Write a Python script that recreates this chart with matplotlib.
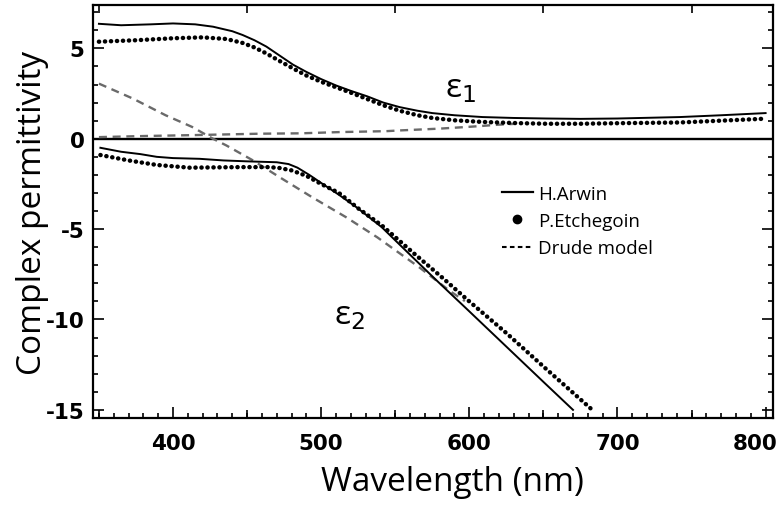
import matplotlib.pyplot as plt
import matplotlib.transforms as mtransforms
from matplotlib.lines import Line2D
from matplotlib.ticker import MultipleLocator

plt.rcParams["axes.unicode_minus"] = False

# ── Data (wavelength in nm) ──────────────────────────────────────────────────
arwin_e1_wl = [350, 365, 385, 400, 415, 427, 440, 447, 455, 463, 472, 481, 490,
               500, 510, 520, 531, 542, 553, 565, 575, 590, 609, 630, 652, 675,
               700, 742, 770, 800]
arwin_e1 = [6.36, 6.28, 6.33, 6.38, 6.33, 6.2, 5.95, 5.74, 5.45, 5.1, 4.6, 4.1,
            3.7, 3.3, 2.95, 2.65, 2.35, 2.0, 1.75, 1.55, 1.42, 1.3, 1.2, 1.15,
            1.12, 1.1, 1.12, 1.2, 1.3, 1.42]

etch_e1_wl = [350, 375, 400, 420, 436, 447, 455, 463, 472, 481, 490, 500, 510,
              520, 531, 542, 553, 565, 575, 590, 609, 630, 652, 675, 700, 742,
              770, 800]
etch_e1 = [5.37, 5.45, 5.56, 5.61, 5.52, 5.3, 5.05, 4.72, 4.3, 3.89, 3.5, 3.15,
           2.85, 2.55, 2.2, 1.85, 1.55, 1.3, 1.15, 1.02, 0.93, 0.87, 0.83, 0.83,
           0.86, 0.9, 1.0, 1.11]

arwin_e2_wl = [351, 365, 378, 389, 400, 418, 434, 450, 470, 478, 484, 492, 501,
               512, 524, 541, 551, 573, 580, 600, 625, 650, 670]
arwin_e2 = [-0.5, -0.72, -0.85, -1.0, -1.07, -1.11, -1.2, -1.25, -1.3, -1.4,
            -1.6, -2.0, -2.5, -3.1, -3.8, -4.9, -5.7, -7.45, -8.0, -9.55, -11.5,
            -13.45, -15.0]

etch_e2_wl = [351, 370, 389, 411, 445, 465, 472, 480, 490, 500, 512, 525, 541,
              562, 582, 600, 625, 650, 683]
etch_e2 = [-0.9, -1.2, -1.45, -1.6, -1.57, -1.57, -1.62, -1.75, -2.05, -2.5,
           -3.0, -3.85, -4.8, -6.3, -7.7, -9.0, -10.75, -12.6, -15.0]

drude_e1_wl = [350, 373, 395, 413, 427, 436, 454, 472, 494, 517, 538, 566, 587,
               597]
drude_e1 = [3.05, 2.22, 1.3, 0.65, 0.0, -0.37, -1.2, -2.13, -3.24, -4.35, -5.46,
            -7.1, -8.43, -8.98]

drude_e2_wl = [350, 380, 413, 459, 486, 513, 544, 553, 580, 598, 607, 620, 630]
drude_e2 = [0.09, 0.15, 0.2, 0.28, 0.3, 0.37, 0.42, 0.46, 0.56, 0.65, 0.7, 0.78,
            0.82]

x_major = [400, 500, 600, 700, 800]
x_medium = [350, 450, 550, 650, 750]
y_major = [-15, -10, -5, 0, 5]

# ── Figure ───────────────────────────────────────────────────────────────────
fig = plt.figure(figsize=(7.82, 5.06), dpi=100)
ax = fig.add_axes([93 / 782, 87 / 506, 680 / 782, 413 / 506])

dash_gray = "#6a6a6a"
ax.axhline(0, color="black", lw=1.7, zorder=1)

ax.plot(drude_e2_wl, drude_e2, color=dash_gray, lw=1.7, dashes=(3.4, 2.4), zorder=2)
ax.plot(drude_e1_wl, drude_e1, color=dash_gray, lw=1.7, dashes=(3.4, 2.4), zorder=2)

ax.plot(arwin_e1_wl, arwin_e1, color="black", lw=1.4, zorder=3)
ax.plot(arwin_e2_wl, arwin_e2, color="black", lw=1.4, zorder=3)

# dotted series: round caps on very short dashes give a chain of dots
for wl, val in [(etch_e1_wl, etch_e1), (etch_e2_wl, etch_e2)]:
    ax.plot(wl, val, color="black", lw=3.2, dashes=(0.05, 1.3),
            dash_capstyle="round", zorder=4)

# ── Axes formatting ──────────────────────────────────────────────────────────
ax.set_xlim(346, 805)
ax.set_ylim(-15.45, 7.4)
ax.set_xticks(x_major)
ax.set_yticks(y_major)
ax.xaxis.set_minor_locator(MultipleLocator(10))
ax.yaxis.set_minor_locator(MultipleLocator(1))
ax.tick_params(which="both", direction="in", top=True, right=True, width=1.2,
               colors="black")
ax.tick_params(which="major", length=8)
ax.tick_params(which="minor", length=3.5)
ax.tick_params(axis="x", which="major", pad=11)
ax.tick_params(axis="y", which="major", pad=6)
for lab in ax.get_xticklabels() + ax.get_yticklabels():
    lab.set_fontweight("bold")
    lab.set_fontsize(15.5)
for sp in ax.spines.values():
    sp.set_linewidth(1.6)

# last x label sits a little inside the edge, as in the original
last = ax.xaxis.get_major_ticks()[-1].label1
last.set_transform(last.get_transform() + mtransforms.ScaledTranslation(
    -10 / 100, 0, fig.dpi_scale_trans))

# medium ticks every 50 nm on top and bottom
ax_mid = ax.twiny()
ax_mid.set_xlim(ax.get_xlim())
ax_mid.set_xticks(x_medium)
ax_mid.tick_params(axis="x", direction="in", top=True, bottom=True,
                   labeltop=False, labelbottom=False, length=6, width=1.2)
for sp in ax_mid.spines.values():
    sp.set_visible(False)

ax.set_xlabel("Wavelength (nm)", fontsize=24, family="Open Sans")
ax.xaxis.set_label_coords(0.528, -0.114)
ax.set_ylabel("Complex permittivity", fontsize=24, family="Open Sans")
ax.yaxis.set_label_coords(-0.065, 0.5)

# curve labels
ax.text(0.54, 0.80, "ε$_1$", transform=ax.transAxes, fontsize=24,
        family="Open Sans", ha="center", va="center")
ax.text(0.377, 0.25, "ε$_2$", transform=ax.transAxes, fontsize=24,
        family="Open Sans", ha="center", va="center")

handles = [
    Line2D([], [], color="black", lw=1.6),
    Line2D([], [], color="black", marker="o", ls="none", ms=6),
    Line2D([], [], color="black", lw=1.5, dashes=(2.2, 1.6)),
]
labels = ["H.Arwin", "P.Etchegoin", "Drude model"]
ax.legend(handles, labels, loc="upper left", bbox_to_anchor=(0.601, 0.565),
          frameon=False, prop={"family": "Open Sans", "size": 13.5},
          handlelength=1.65, handletextpad=0.3, labelspacing=0.5,
          borderpad=0, borderaxespad=0)

fig.savefig("out.png", dpi=100)
